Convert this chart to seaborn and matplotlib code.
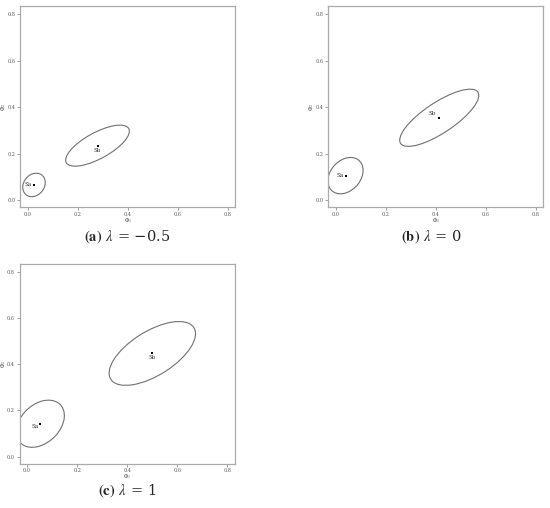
import numpy as np
import pandas as pd
import matplotlib
matplotlib.use('Agg')
import matplotlib.pyplot as plt
from matplotlib.patches import Ellipse
import seaborn as sns

# data: centres (phi1, phi2) and ellipse shapes
panels = ['a', 'b', 'c']
lambdas = ['\u22120.5', '0', '1']
groups = ['Sa', 'Sb']

sa_x = [0.026, 0.040, 0.053]
sa_y = [0.065, 0.105, 0.142]
sb_x = [0.280, 0.415, 0.500]
sb_y = [0.234, 0.354, 0.446]

# ellipse full width, full height, angle (deg)
sa_w = [0.106, 0.170, 0.230]
sa_h = [0.084, 0.124, 0.160]
sa_ang = [60, 55, 50]
sb_w = [0.290, 0.380, 0.400]
sb_h = [0.110, 0.128, 0.187]
sb_ang = [31, 36, 35]

ticks = [0.0, 0.2, 0.4, 0.6, 0.8]

sns.set_style('white')
plt.rcParams['font.family'] = ['DejaVu Serif']
plt.rcParams['mathtext.fontset'] = 'stix'

fig = plt.figure(figsize=(5.5, 5.08), dpi=100)
boxes = [[20 / 550, 301 / 508, 215 / 550, 201 / 508],
         [328 / 550, 301 / 508, 215 / 550, 201 / 508],
         [19.5 / 550, 44.5 / 508, 215.5 / 550, 200 / 508]]
cap_pos = [(127 / 550, 1 - 237 / 508), (432 / 550, 1 - 237 / 508), (127 / 550, 1 - 491 / 508)]

for i, p in enumerate(panels):
    ax = fig.add_axes(boxes[i])
    df = pd.DataFrame({'phi1': [sa_x[i], sb_x[i]], 'phi2': [sa_y[i], sb_y[i]], 'grp': groups})
    sns.scatterplot(data=df, x='phi1', y='phi2', ax=ax, color='black', marker='s',
                    s=3, linewidth=0, legend=False)
    for cx, cy, w, h, a in [(sa_x[i], sa_y[i], sa_w[i], sa_h[i], sa_ang[i]),
                            (sb_x[i], sb_y[i], sb_w[i], sb_h[i], sb_ang[i])]:
        ax.add_patch(Ellipse((cx, cy), w, h, angle=a, fill=False, edgecolor='#707070', lw=0.8))
    # group labels
    if p == 'a':
        ax.text(sa_x[i] - 0.008, sa_y[i], 'Sa', fontsize=4, ha='right', va='center')
        ax.text(sb_x[i], sb_y[i] - 0.008, 'Sb', fontsize=4, ha='center', va='top')
    elif p == 'b':
        ax.text(sa_x[i] - 0.008, sa_y[i], 'Sa', fontsize=4, ha='right', va='center')
        ax.text(sb_x[i] - 0.012, sb_y[i] + 0.008, 'Sb', fontsize=4, ha='right', va='bottom')
    else:
        ax.text(sa_x[i] - 0.008, sa_y[i] - 0.012, 'Sa', fontsize=4, ha='right', va='center')
        ax.text(sb_x[i], sb_y[i] - 0.008, 'Sb', fontsize=4, ha='center', va='top')
    ax.set_xlim(-0.03, 0.83)
    ax.set_ylim(-0.03, 0.835)
    ax.set_xticks(ticks)
    ax.set_yticks(ticks)
    ax.set_xticklabels([f'{t:.1f}' for t in ticks])
    ax.set_yticklabels([f'{t:.1f}' for t in ticks])
    ax.tick_params(labelsize=3.5, length=2, width=0.4, colors='#555555', pad=1.5,
                   bottom=True, left=True)
    ax.set_xlabel(r'$\Phi_1$', fontsize=4, color='#444444')
    ax.set_ylabel(r'$\Phi_{2}$', fontsize=4, color='#444444')
    ax.xaxis.set_label_coords(0.5, -0.045)
    ax.yaxis.set_label_coords(-0.055, 0.5)
    for s in ax.spines.values():
        s.set_color('#aaaaaa')
        s.set_linewidth(0.9)
    fig.text(cap_pos[i][0], cap_pos[i][1],
             r'$\mathbf{(' + p + r')}$ $\lambda$ = ' + lambdas[i],
             fontsize=10.5, ha='center', va='center')

fig.savefig('out.png', dpi=100)
